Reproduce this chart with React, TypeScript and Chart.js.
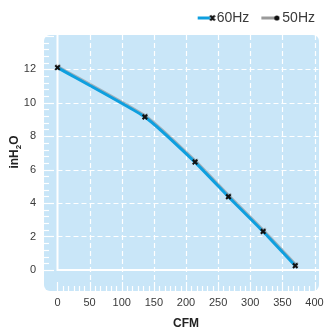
import React, { useEffect, useRef } from 'react';
import { Chart, registerables } from 'chart.js';

Chart.register(...registerables);

// ---- data ----
const cfm60 = [0, 136, 214, 266, 320, 370];
const pressure60 = [12.1, 9.15, 6.45, 4.38, 2.3, 0.25];
const cfm50: number[] = [];
const pressure50: number[] = [];
const seriesLabels = ['60Hz', '50Hz'];
const xTicks = [0, 50, 100, 150, 200, 250, 300, 350, 400];
const yTicks = [0, 2, 4, 6, 8, 10, 12];
const xTitle = 'CFM';
const yTitleParts = ['inH', '2', 'O'];

const BLUE = '#0e9fdf';
const BG = '#c9e6f8';
const TEXT = '#3a3a3a';
const SANS = "'Liberation Sans', Arial, Helvetica, sans-serif";

function makeIcon(kind: 'cross' | 'dot'): HTMLCanvasElement {
  const c = document.createElement('canvas');
  c.width = 28;
  c.height = 10;
  const g = c.getContext('2d')!;
  const cy = 5;
  if (kind === 'cross') {
    g.strokeStyle = BLUE;
    g.lineWidth = 3;
    g.beginPath();
    g.moveTo(10, cy);
    g.lineTo(22.5, cy);
    g.stroke();
    g.strokeStyle = '#111';
    g.lineWidth = 2;
    g.beginPath();
    g.moveTo(22.5, cy - 2.5);
    g.lineTo(27, cy + 2.5);
    g.moveTo(27, cy - 2.5);
    g.lineTo(22.5, cy + 2.5);
    g.stroke();
  } else {
    g.strokeStyle = '#9a9a9a';
    g.lineWidth = 3;
    g.beginPath();
    g.moveTo(8, cy);
    g.lineTo(21, cy);
    g.stroke();
    g.fillStyle = '#111';
    g.beginPath();
    g.arc(23.5, cy, 2.6, 0, Math.PI * 2);
    g.fill();
  }
  return c;
}

const decorPlugin = {
  id: 'decor',
  beforeDatasetsDraw(chart: any) {
    const { ctx, chartArea: a, scales } = chart;
    const x = scales.x;
    const y = scales.y;
    const x0 = x.getPixelForValue(0);
    const y0 = y.getPixelForValue(0);
    ctx.save();
    ctx.fillStyle = BG;
    ctx.beginPath();
    ctx.roundRect(a.left, a.top, a.right - a.left, a.bottom - a.top, 6);
    ctx.fill();

    ctx.strokeStyle = '#ffffff';
    // dashed grid
    ctx.lineWidth = 1.2;
    ctx.setLineDash([5, 3]);
    xTicks.forEach((v) => {
      if (v === 0) return;
      const px = Math.round(x.getPixelForValue(v)) + 0.5;
      ctx.beginPath();
      ctx.moveTo(px, a.top);
      ctx.lineTo(px, a.bottom - 9);
      ctx.stroke();
    });
    yTicks.forEach((v) => {
      if (v === 0) return;
      const py = Math.round(y.getPixelForValue(v)) + 0.5;
      ctx.beginPath();
      ctx.moveTo(x0, py);
      ctx.lineTo(a.right, py);
      ctx.stroke();
    });
    ctx.setLineDash([]);

    // minor / major ticks on left edge
    ctx.lineWidth = 1.2;
    for (let k = 0; k * 0.4 <= y.max; k++) {
      const py = Math.round(y.getPixelForValue(k * 0.4)) + 0.5;
      const major = k % 5 === 0;
      ctx.beginPath();
      ctx.moveTo(a.left, py);
      ctx.lineTo(a.left + (major ? 10 : 5), py);
      ctx.stroke();
    }
    // minor / major ticks on bottom edge
    for (let k = 0; k <= 48; k++) {
      const v = (k * 50) / 6;
      const px = Math.round(x.getPixelForValue(v)) + 0.5;
      const major = k % 6 === 0;
      ctx.beginPath();
      ctx.moveTo(px, a.bottom);
      ctx.lineTo(px, a.bottom - (major ? 9 : 5));
      ctx.stroke();
    }

    // axis lines
    ctx.lineWidth = 2;
    ctx.beginPath();
    ctx.moveTo(x0, a.top);
    ctx.lineTo(x0, y0 + 1);
    ctx.moveTo(x0 - 1, y0);
    ctx.lineTo(a.right, y0);
    ctx.stroke();
    ctx.restore();
  },
  beforeDatasetDraw(chart: any) {
    const ctx = chart.ctx;
    ctx.save();
    ctx.shadowColor = 'rgba(110,110,110,0.45)';
    ctx.shadowOffsetX = 0.5;
    ctx.shadowOffsetY = -0.9;
    ctx.shadowBlur = 0.3;
  },
  afterDatasetDraw(chart: any) {
    chart.ctx.restore();
  },
  afterDraw(chart: any) {
    const { ctx, scales } = chart;
    const x = scales.x;
    ctx.save();
    ctx.fillStyle = '#222';
    ctx.textBaseline = 'middle';
    // x title
    ctx.font = `bold 12px ${SANS}`;
    ctx.textAlign = 'center';
    const cx = (x.getPixelForValue(0) + x.getPixelForValue(400)) / 2;
    ctx.fillText(xTitle, cx, 324);
    // y title with subscript
    const bigFont = `bold 12px ${SANS}`;
    const smallFont = `bold 8px ${SANS}`;
    ctx.font = bigFont;
    const w1 = ctx.measureText(yTitleParts[0]).width;
    const w3 = ctx.measureText(yTitleParts[2]).width;
    ctx.font = smallFont;
    const w2 = ctx.measureText(yTitleParts[1]).width;
    const total = w1 + w2 + w3;
    ctx.translate(14, 152);
    ctx.rotate(-Math.PI / 2);
    ctx.textAlign = 'left';
    ctx.textBaseline = 'alphabetic';
    let sx = -total / 2;
    ctx.font = bigFont;
    ctx.fillText(yTitleParts[0], sx, 4.3);
    sx += w1;
    ctx.font = smallFont;
    ctx.fillText(yTitleParts[1], sx, 6.5);
    sx += w2;
    ctx.font = bigFont;
    ctx.fillText(yTitleParts[2], sx, 4.3);
    ctx.restore();
  },
};

export default function App() {
  const ref = useRef<HTMLCanvasElement | null>(null);
  useEffect(() => {
    if (!ref.current) return;
    const icon60 = makeIcon('cross');
    const icon50 = makeIcon('dot');
    const chart = new Chart(ref.current, {
      type: 'line',
      data: {
        datasets: [
          {
            label: seriesLabels[0],
            data: cfm60.map((c, i) => ({ x: c, y: pressure60[i] })),
            borderColor: BLUE,
            borderWidth: 3,
            tension: 0.15,
            pointStyle: 'crossRot',
            pointRadius: 3.2,
            pointBorderWidth: 2,
            pointBorderColor: '#111',
            pointBackgroundColor: '#111',
            fill: false,
          },
          {
            label: seriesLabels[1],
            data: cfm50.map((c, i) => ({ x: c, y: pressure50[i] })),
            borderColor: '#9a9a9a',
            borderWidth: 3,
            pointStyle: 'circle',
            pointRadius: 2.5,
            pointBackgroundColor: '#111',
            pointBorderColor: '#111',
            fill: false,
          },
        ],
      },
      options: {
        animation: false,
        responsive: true,
        maintainAspectRatio: false,
        layout: { padding: { top: 1, right: 0, left: 0, bottom: 0 } },
        plugins: {
          tooltip: { enabled: false },
          legend: {
            display: true,
            position: 'top',
            align: 'end',
            labels: {
              usePointStyle: true,
              pointStyleWidth: 16,
              padding: 10,
              color: TEXT,
              font: { size: 14, family: SANS },
              generateLabels: () => [
                { text: seriesLabels[0], pointStyle: icon60, fillStyle: BLUE, strokeStyle: BLUE, lineWidth: 0, datasetIndex: 0, hidden: false, fontColor: TEXT },
                { text: seriesLabels[1], pointStyle: icon50, fillStyle: '#999', strokeStyle: '#999', lineWidth: 0, datasetIndex: 1, hidden: false, fontColor: TEXT },
              ] as any,
            },
          },
        },
        scales: {
          x: {
            type: 'linear',
            min: -21,
            max: 407,
            grid: { display: false, drawTicks: false },
            border: { display: false },
            afterBuildTicks: (s: any) => {
              s.ticks = xTicks.map((v) => ({ value: v }));
            },
            afterFit: (s: any) => {
              s.height = 42;
              s.paddingRight = 6;
            },
            ticks: {
              padding: 5,
              color: TEXT,
              font: { size: 11, family: SANS },
              maxRotation: 0,
              autoSkip: false,
            },
          },
          y: {
            type: 'linear',
            min: -1.26,
            max: 14.05,
            grid: { display: false, drawTicks: false },
            border: { display: false },
            afterBuildTicks: (s: any) => {
              s.ticks = yTicks.map((v) => ({ value: v }));
            },
            afterFit: (s: any) => {
              s.width = 44;
            },
            ticks: {
              padding: 8,
              color: TEXT,
              font: { size: 11, family: SANS },
              autoSkip: false,
            },
          },
        },
      },
      plugins: [decorPlugin],
    });
    return () => chart.destroy();
  }, []);
  return (
    <div style={{ position: 'fixed', left: 0, top: 0, width: 325, height: 333, background: '#fff' }}>
      <canvas ref={ref} />
    </div>
  );
}
